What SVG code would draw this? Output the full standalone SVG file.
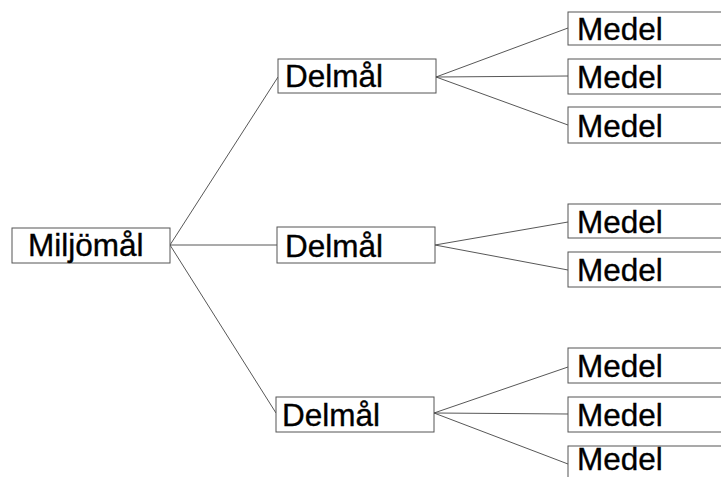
<svg xmlns="http://www.w3.org/2000/svg" width="721" height="477" viewBox="0 0 721 477">
<style>
.box{fill:#fff;stroke:#555;stroke-width:1}
.t{font-family:"Liberation Sans",Arial,sans-serif;font-size:31.5px;fill:#000;stroke:#000;stroke-width:0.35}
.c line{stroke:#444;stroke-width:0.9}
</style>
<rect width="721" height="477" fill="#fff"/>
<g class="c" id="connectors">
<line x1="170" y1="245" x2="278" y2="77"/>
<line x1="170" y1="245" x2="277" y2="245"/>
<line x1="170" y1="245" x2="276" y2="413"/>
<line x1="436" y1="77" x2="568" y2="28"/>
<line x1="436" y1="77" x2="568" y2="76"/>
<line x1="436" y1="77" x2="568" y2="125"/>
<line x1="435" y1="245" x2="568" y2="222"/>
<line x1="435" y1="245" x2="568" y2="270"/>
<line x1="434" y1="413" x2="568" y2="367"/>
<line x1="434" y1="413" x2="568" y2="414"/>
<line x1="434" y1="413" x2="568" y2="464"/>
</g>
<g id="miljomal"><rect class="box" x="12" y="228" width="158" height="35"/><text class="t" x="28" y="256">Miljömål</text></g>
<g id="delmal1"><rect class="box" x="278" y="59" width="158" height="34"/><text class="t" x="285" y="87">Delmål</text></g>
<g id="delmal2"><rect class="box" x="277" y="227" width="158" height="36"/><text class="t" x="285" y="257">Delmål</text></g>
<g id="delmal3"><rect class="box" x="276" y="397" width="158" height="35"/><text class="t" x="282" y="426">Delmål</text></g>
<g id="medel1"><rect class="box" x="568" y="12" width="200" height="33"/><text class="t" x="577" y="40">Medel</text></g>
<g id="medel2"><rect class="box" x="568" y="59" width="200" height="35"/><text class="t" x="577" y="88">Medel</text></g>
<g id="medel3"><rect class="box" x="568" y="107" width="200" height="36"/><text class="t" x="577" y="137">Medel</text></g>
<g id="medel4"><rect class="box" x="568" y="204" width="200" height="34"/><text class="t" x="577" y="233">Medel</text></g>
<g id="medel5"><rect class="box" x="568" y="252" width="200" height="35"/><text class="t" x="577" y="281">Medel</text></g>
<g id="medel6"><rect class="box" x="568" y="348" width="200" height="35"/><text class="t" x="577" y="377">Medel</text></g>
<g id="medel7"><rect class="box" x="568" y="397" width="200" height="35"/><text class="t" x="577" y="426">Medel</text></g>
<g id="medel8"><rect class="box" x="568" y="446" width="200" height="40"/><text class="t" x="577" y="470">Medel</text></g>
</svg>
